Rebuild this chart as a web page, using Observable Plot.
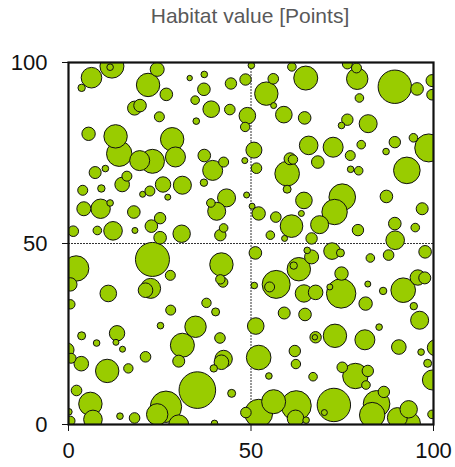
<!DOCTYPE html>
<html>
<head>
<meta charset="utf-8">
<script src="https://cdn.jsdelivr.net/npm/d3@7"></script>
<script src="https://cdn.jsdelivr.net/npm/@observablehq/plot@0.6"></script>
<style>
  html, body { margin: 0; padding: 0; background: #fff; }
  #wrap { position: relative; width: 455px; height: 467px; }
  #title { position: absolute; top: 4px; left: 250px; transform: translateX(-50%); z-index: 2;
           font-family: "Liberation Sans", Arial, sans-serif; font-size: 21px; line-height: 23px;
           color: #595959; white-space: nowrap; }
  #chart { position: absolute; top: 0; left: 0; z-index: 1; }
</style>
</head>
<body>
<div id="wrap">
  <div id="chart"></div>
  <div id="title"></div>
</div>
<script>
const titleText = "Habitat value [Points]";
const xTicks = [0, 50, 100];
const yTicks = [0, 50, 100];
const dividers = [50];

const xValues = [
  6.3, 3.6, 11.9, 11.4, 24.3, 21.8, 26.8, 33.2, 19.6, 18.1, 24.9, 5.5, 12.9, 28.4, 13.9, 19.5, 23.0, 29.3, 7.3, 10.1, 16.0,
  50.1, 37.2, 37.1, 44.5, 48.5, 34.7, 39.1, 44.2, 35.0, 49.0, 48.4, 61.2, 65.0, 54.2, 56.1, 56.2, 59.0, 64.7, 50.8, 48.3, 51.5, 37.2, 42.5, 39.5, 37.1, 65.8, 60.7, 61.5, 59.9,
  76.4, 78.9, 79.1, 89.4, 95.5, 99.6, 99.6, 79.7, 76.4, 74.8, 82.1, 72.5, 80.2, 77.2, 68.3, 77.3, 79.5, 89.4, 87.0, 94.5, 98.7, 92.7,
  14.7, 3.9, 9.0, 4.2, 8.8, 11.4, 17.9, 22.3, 20.3, 25.9, 27.2, 31.2, 1.3, 7.9, 12.2, 18.2, 22.7, 25.1, 25.1, 31.0, 23.0, 2.1, 0.5, 21.1, 22.5, 27.9, 10.9, 0.5,
  43.3, 39.0, 40.6, 48.8, 50.3, 52.1, 42.5, 41.6, 59.9, 64.5, 56.8, 63.8, 61.1, 55.3, 59.2, 66.6, 51.2, 41.9, 41.6, 42.3, 50.9, 56.9, 55.1, 63.1, 61.7, 65.4, 66.6, 64.5, 67.7, 37.8,
  72.9, 75.0, 68.8, 87.1, 96.9, 79.3, 89.4, 95.0, 89.5, 72.2, 74.5, 82.7, 87.7, 97.7, 74.8, 74.7, 71.6, 82.0, 86.2, 91.7, 95.7, 97.6, 81.4, 94.6,
  28.0, 25.2, 3.6, 7.7, 13.0, 13.3, 14.8, 21.1, -0.4, 0.7, 3.5, 10.6, 16.4, 31.2, 30.2, 2.2, 6.0, 6.7, 0.1, 0.5, 14.1, 18.1, 26.7, 24.3, 30.2,
  40.3, 34.8, 41.5, 41.9, 42.5, 39.8, 51.3, 52.1, 35.3, 44.7, 54.9, 59.1, 64.8, 67.7, 67.5, 62.0, 62.3, 67.0, 52.1, 48.6, 56.2, 62.4, 62.2, 65.1, 40.0,
  96.2, 73.0, 81.2, 85.1, 90.5, 96.6, 100.5, 98.4, 99.7, 78.6, 82.0, 81.5, 75.0, 72.7, 70.1, 86.4, 83.2, 84.4, 90.1, 93.4, 93.2, 99.6
];
const yValues = [
  95.8, 93.0, 99.0, 98.7, 98.1, 93.8, 91.2, 95.7, 88.1, 87.4, 85.0, 80.3, 79.6, 78.8, 74.8, 72.9, 72.7, 73.9, 69.6, 70.7, 68.6,
  99.2, 96.7, 92.6, 94.2, 95.3, 89.6, 87.1, 87.0, 83.8, 85.3, 82.2, 98.8, 95.7, 91.4, 95.5, 88.1, 85.6, 84.7, 75.8, 72.9, 70.8, 74.3, 72.5, 70.2, 66.8, 77.1, 73.4, 73.2, 69.3,
  99.6, 98.5, 95.5, 93.3, 92.7, 95.0, 91.1, 90.2, 84.2, 82.6, 83.1, 76.6, 77.3, 74.3, 72.5, 70.5, 70.1, 78.0, 75.4, 79.2, 76.4, 70.2,
  66.3, 64.7, 65.2, 59.6, 59.6, 61.2, 58.7, 64.5, 63.6, 66.3, 62.8, 66.1, 53.4, 53.6, 53.5, 53.6, 54.8, 57.0, 51.6, 52.7, 45.6, 43.1, 38.7, 37.1, 37.6, 41.2, 36.2, 33.2,
  62.6, 61.2, 58.9, 63.4, 60.3, 58.3, 54.3, 52.3, 65.0, 61.9, 57.3, 58.3, 54.8, 52.3, 51.4, 51.4, 47.4, 44.2, 40.1, 39.3, 38.4, 38.7, 38.0, 42.9, 43.9, 48.1, 46.3, 36.2, 36.5, 33.6,
  58.7, 62.8, 55.2, 63.0, 59.6, 53.7, 55.5, 54.4, 50.9, 47.9, 47.4, 46.0, 46.8, 47.7, 41.7, 36.2, 38.0, 38.8, 36.9, 37.1, 40.6, 40.5, 33.4, 32.7,
  31.6, 27.3, 24.5, 22.5, 22.7, 25.2, 20.8, 18.7, 20.6, 18.3, 16.8, 14.8, 15.5, 21.9, 17.5, 9.4, 5.7, 1.4, 3.5, 1.0, 2.3, 1.8, 4.9, 2.8, -0.1,
  31.1, 27.0, 23.9, 17.2, 18.1, 15.5, 27.2, 18.5, 9.5, 8.6, 13.4, 30.8, 30.4, 24.1, 24.1, 20.3, 16.7, 13.2, 3.1, 3.3, 6.3, 5.2, 1.7, 1.2, 0.3,
  28.8, 24.5, 23.4, 26.9, 21.4, 20.0, 21.2, 16.9, 12.3, 13.4, 14.8, 10.9, 15.8, 5.4, 3.3, 9.0, 2.6, 5.7, 1.9, 0.3, 4.2, 2.8
];
const habitatPoints = [
  10.3, 3.7, 12, 3.3, 7, 11.7, 6.3, 2.7, 6.3, 7, 5, 6.7, 11.7, 11.7, 12.7, 10, 12, 10, 6, 3.3, 5,
  3.3, 3.3, 6.3, 5.7, 5.7, 4.3, 8.3, 5.3, 3.3, 8.3, 4.7, 4.3, 12, 11.7, 5.3, 3, 8.3, 6.3, 8, 3, 5.3, 6.3, 5, 10, 3.7, 9.3, 6, 4.7, 12.3,
  5, 5, 10.7, 16.7, 6.3, 6, 5.3, 4.3, 5.7, 3.3, 9, 10, 4.3, 5, 6.3, 3.3, 4.3, 5.7, 3.3, 4.3, 14, 13.3,
  7.3, 5, 3.7, 7, 9.7, 3.3, 6.3, 5, 3, 7.7, 3, 9, 5.3, 4.3, 9.3, 3, 6.3, 5.7, 6.3, 8.7, 17, 12.7, 6.7, 7.3, 10, 5, 8.3, 4.7,
  9, 4.3, 9, 3, 3, 6.7, 4.3, 5.7, 4, 8.3, 5.3, 3, 11.3, 4.3, 3, 5.7, 6.3, 11.7, 4.7, 5, 3.3, 14, 5, 11.7, 3.7, 3.3, 7, 8.7, 7.3, 4.7,
  12.7, 13.3, 9, 6.3, 6, 5.7, 6.3, 4.3, 9.3, 8.3, 4, 4.3, 5.3, 6.3, 6.7, 14.7, 3, 3, 3.7, 12.3, 7.7, 6, 6.7, 3.7,
  5, 3.3, 4, 3.3, 3, 7.7, 3, 5.3, 7, 5, 7.3, 11.7, 4.7, 12, 6, 5.3, 11.7, 9.3, 3.3, 4.7, 3.3, 5.3, 15.7, 10.7, 10,
  4, 10.7, 5.3, 7.3, 8.7, 3.7, 8.3, 12.3, 18.3, 4, 3.3, 6, 6.3, 5.7, 2.7, 5.7, 4.7, 4.3, 14, 5.3, 12, 15, 8.3, 3.3, 3.3,
  9, 11.7, 10, 3.3, 7.3, 3.3, 8, 4, 10, 12.7, 5.7, 4.3, 5.3, 16.7, 3, 5.7, 12.7, 13.3, 10, 11, 8.7, 4.3
];

document.getElementById("title").textContent = titleText;

const data = xValues.map((x, i) => ({x, y: yValues[i], v: habitatPoints[i]}));

const chart = Plot.plot({
  width: 455,
  height: 467,
  marginLeft: 68,
  marginRight: 22,
  marginTop: 62,
  marginBottom: 43,
  style: {fontFamily: "'Liberation Sans', Arial, sans-serif", fontSize: "22px", color: "#111", background: "transparent"},
  x: {domain: [0, 100], ticks: xTicks, tickSize: 7, tickPadding: 11, tickFormat: d => d, label: null},
  y: {domain: [0, 100], ticks: yTicks, tickSize: 6, tickPadding: 15, tickFormat: d => d, label: null},
  r: {type: "linear", domain: [0, 20], range: [0, 20]},
  marks: [
    Plot.ruleX(dividers, {stroke: "#333", strokeWidth: 1, strokeDasharray: "2,1"}),
    Plot.ruleY(dividers, {stroke: "#333", strokeWidth: 1, strokeDasharray: "2,1"}),
    Plot.dot(data, {x: "x", y: "y", r: "v", fill: "#99cc00", fillOpacity: 1, stroke: "#111", strokeWidth: 1, clip: true}),
    Plot.frame({stroke: "#111", strokeWidth: 2.2})
  ]
});
document.getElementById("chart").appendChild(chart);
</script>
</body>
</html>
